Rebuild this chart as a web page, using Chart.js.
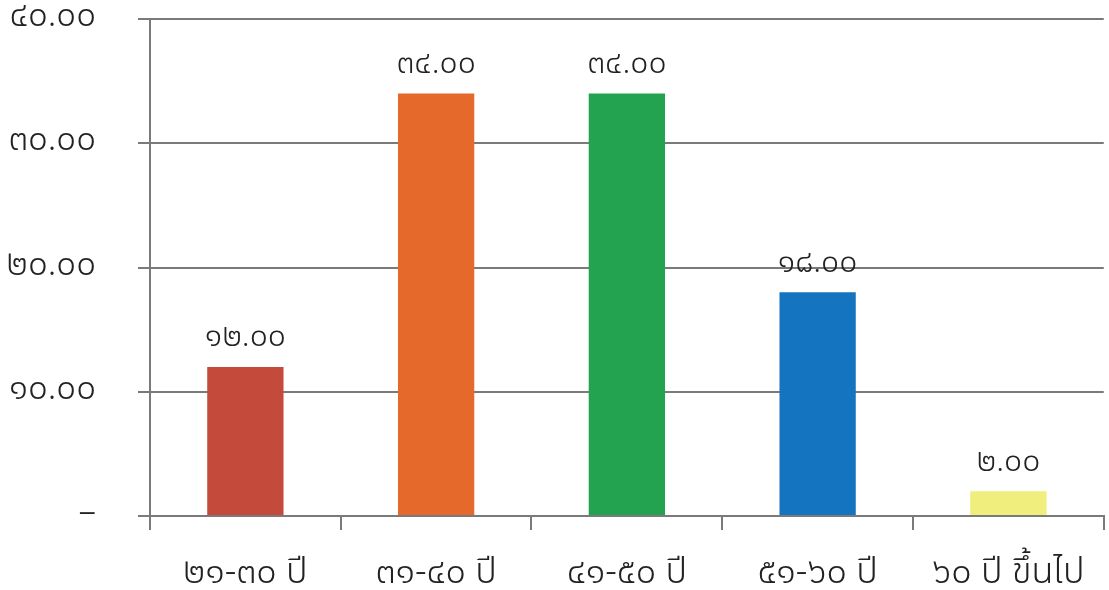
<!DOCTYPE html>
<html>
<head>
<meta charset="utf-8">
<script src="https://cdn.jsdelivr.net/npm/chart.js@4"></script>
<style>
  html, body { margin: 0; padding: 0; background: #fff; }
  #wrap { width: 1109px; height: 590px; }
</style>
</head>
<body>
<div id="wrap"><canvas id="chart" width="1109" height="590"></canvas></div>
<script>
var categories = ["๒๑-๓๐ ปี", "๓๑-๔๐ ปี", "๔๑-๕๐ ปี", "๕๑-๖๐ ปี", "๖๐ ปี ขึ้นไป"];
var values = [12, 34, 34, 18, 2];
var barColors = ["#c44a3c", "#e4692a", "#23a24f", "#1574c0", "#f0ee7c"];
var yTicks = [0, 10, 20, 30, 40];

var FONT = "'Noto Sans Thai', 'Noto Sans Thai Looped', Loma, Garuda, 'Tlwg Typo', 'Noto Sans', sans-serif";
var thaiDigits = "๐๑๒๓๔๕๖๗๘๙";

function toThai(s) {
    return String(s).replace(/[0-9]/g, d => thaiDigits[+d]);
}

// value labels above bars (no datalabels plugin offline)
var barLabels = {
    id: 'barLabels',
    afterDatasetsDraw(chart) {
        var ctx = chart.ctx;
        var meta = chart.getDatasetMeta(0);
        ctx.save();
        ctx.font = "300 32px " + FONT;
        ctx.fillStyle = "#222";
        ctx.textAlign = "center";
        ctx.textBaseline = "middle";
        meta.data.forEach((bar, i) => {
            ctx.fillText(toThai(values[i].toFixed(2)), bar.x, bar.y - 27);
        });
        ctx.restore();
    }
};

chart = new Chart(document.getElementById('chart'),
    {
        type: 'bar',
        data: {
            labels: categories,
            datasets: [
                {
                    data: values,
                    backgroundColor: barColors,
                    borderWidth: 0,
                    barPercentage: 0.4,
                    categoryPercentage: 1
                }
            ]
        },
        options: {
            responsive: false,
            animation: false,
            layout: { padding: { top: 19, right: 4, left: 0, bottom: 0 } },
            plugins: {
                legend: { display: false },
                tooltip: { enabled: false }
            },
            scales: {
                y: {
                    min: 0,
                    max: 40,
                    afterFit: s => { s.width = 150; s.paddingTop = 0; s.paddingBottom = 0; },
                    afterBuildTicks: s => { s.ticks = yTicks.map(v => ({ value: v })); },
                    border: { color: "#7a7a7a", width: 2 },
                    grid: { color: "#7a7a7a", lineWidth: 2, tickLength: 12 },
                    ticks: {
                        padding: 42,
                        color: "#222",
                        font: { size: 35, weight: 300, family: FONT },
                        callback: v => v === 0 ? "–" : toThai(v.toFixed(2))
                    }
                },
                x: {
                    afterFit: s => { s.height = 74; },
                    border: { color: "#7a7a7a", width: 2 },
                    grid: { drawOnChartArea: false, color: "#7a7a7a", lineWidth: 2, tickLength: 14 },
                    ticks: {
                        padding: 24,
                        color: "#222",
                        font: { size: 36, weight: 300, family: FONT }
                    }
                }
            }
        },
        plugins: [barLabels]
    });
</script>
</body>
</html>
